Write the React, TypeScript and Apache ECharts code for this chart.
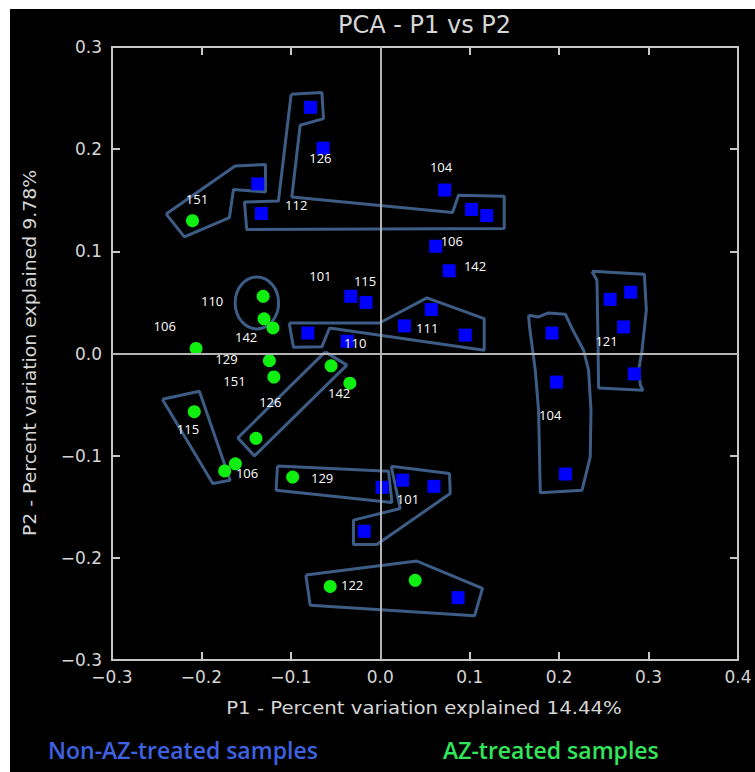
import React, { useEffect, useRef } from 'react';
import * as echarts from 'echarts';

// ---- data (PC1, PC2) ----
const nonAzSamples: number[][] = [
  [-0.078, 0.241], [-0.064, 0.201], [-0.137, 0.166], [-0.133, 0.137],
  [0.072, 0.160], [0.102, 0.141], [0.119, 0.135], [0.062, 0.105], [0.077, 0.081],
  [-0.033, 0.056], [-0.016, 0.050], [-0.081, 0.020], [-0.037, 0.012],
  [0.057, 0.043], [0.027, 0.027], [0.095, 0.018],
  [0.192, 0.020], [0.257, 0.053], [0.280, 0.060], [0.272, 0.026], [0.284, -0.020],
  [0.197, -0.028], [0.207, -0.118],
  [0.002, -0.131], [0.025, -0.124], [0.060, -0.130], [-0.018, -0.174], [0.087, -0.239],
];

const azSamples: number[][] = [
  [-0.210, 0.130], [-0.131, 0.056], [-0.130, 0.034], [-0.120, 0.025], [-0.206, 0.005],
  [-0.124, -0.007], [-0.119, -0.023], [-0.055, -0.012], [-0.034, -0.029],
  [-0.208, -0.057], [-0.139, -0.083], [-0.162, -0.108], [-0.174, -0.115],
  [-0.098, -0.121], [-0.056, -0.228], [0.039, -0.222],
];

const sampleLabels: [string, number, number][] = [
  ['151', -0.205, 0.151], ['126', -0.067, 0.191], ['112', -0.094, 0.145],
  ['101', -0.067, 0.076], ['115', -0.017, 0.071], ['110', -0.188, 0.051],
  ['106', -0.241, 0.027], ['142', -0.150, 0.016], ['110', -0.028, 0.010],
  ['104', 0.068, 0.183], ['106', 0.080, 0.110], ['142', 0.106, 0.086],
  ['111', 0.0525, 0.025], ['121', 0.253, 0.012], ['104', 0.190, -0.060],
  ['101', 0.031, -0.1425], ['129', -0.172, -0.005], ['151', -0.163, -0.027],
  ['126', -0.123, -0.047], ['142', -0.046, -0.039], ['115', -0.215, -0.074],
  ['106', -0.149, -0.117], ['129', -0.065, -0.122], ['122', -0.0315, -0.227],
];

// ---- hand-drawn group outlines (data units) ----
const outline151: number[][] = [
  [-0.2395, 0.1366], [-0.1623, 0.1836], [-0.1284, 0.1849], [-0.1284, 0.1581],
  [-0.1642, 0.1605], [-0.1687, 0.1331], [-0.2191, 0.1141],
];
const outline112: number[][] = [
  [-0.0997, 0.2537], [-0.0653, 0.2554], [-0.0635, 0.2299], [-0.0896, 0.2234],
  [-0.0989, 0.1532], [0.0808, 0.1380], [0.0875, 0.1549], [0.1386, 0.1539],
  [0.1386, 0.1223], [-0.1493, 0.1213], [-0.1519, 0.1483], [-0.1139, 0.1493],
];
const outline111: number[][] = [
  [-0.1019, 0.0299], [-0.0009, 0.0299], [0.0521, 0.0544], [0.1162, 0.0342],
  [0.1162, 0.0032], [-0.0568, 0.0250], [-0.0653, 0.0065], [-0.0971, 0.0062],
];
const outline126: number[][] = [
  [-0.0616, 0.0016], [-0.0374, -0.0114], [-0.1407, -0.1002], [-0.1593, -0.0826],
];
const outline115: number[][] = [
  [-0.2437, -0.0447], [-0.2023, -0.0369], [-0.1679, -0.1240], [-0.1873, -0.1272],
];
const outline129: number[][] = [
  [-0.1150, -0.1100], [0.0092, -0.1152], [0.0130, -0.1458], [-0.1165, -0.1338],
];
const outline101: number[][] = [
  [0.0122, -0.1103], [0.0774, -0.1174], [0.0782, -0.1370], [-0.0038, -0.1869],
  [-0.0300, -0.1869], [-0.0300, -0.1631], [0.0223, -0.1517],
];
const outline122: number[][] = [
  [-0.0832, -0.2169], [0.0409, -0.2032], [0.1143, -0.2299], [0.1054, -0.2568],
  [-0.0784, -0.2463],
];
const outline104: number[][] = [
  [0.1658, 0.0375], [0.1770, 0.0358], [0.1882, 0.0397], [0.2069, 0.0385],
  [0.2144, 0.0245], [0.2273, 0.0032], [0.2329, -0.0163], [0.2356, -0.0555],
  [0.2348, -0.1012], [0.2256, -0.1338], [0.1789, -0.1364], [0.1770, -0.0555],
  [0.1733, -0.0163], [0.1669, 0.0260],
];
const outline121: number[][] = [
  [0.2367, 0.0805], [0.2953, 0.0776], [0.2975, 0.0424], [0.2927, 0.0032],
  [0.2889, -0.0163], [0.2908, -0.0310], [0.2938, -0.0359], [0.2441, -0.0337],
  [0.2435, 0.0098], [0.2423, 0.0717],
];
// ellipse: cx, cy, rx, ry (data units)
const outline110: number[][] = [[-0.138, 0.0495, 0.0243, 0.0254]];

const outlines = [outline151, outline112, outline111, outline126, outline115,
  outline129, outline101, outline122, outline104, outline121];

const xTicks = { min: -0.3, max: 0.4, interval: 0.1 };
const yTicks = { min: -0.3, max: 0.3, interval: 0.1 };

const titleText = 'PCA - P1 vs P2';
const xName = 'P1 - Percent variation explained 14.44%';
const yName = 'P2 - Percent variation explained 9.78%';
const legendNonAz = 'Non-AZ-treated samples';
const legendAz = 'AZ-treated samples';

const FRAME = '#c8c8c8';
const TEXT = '#d6d6d6';
const OUTLINE = '#3d5d86';
const FONT = 'DejaVu Sans';

const fmt = (v: number) => {
  if (Math.abs(v) < 1e-9) return '0.0';
  const s = v.toFixed(1);
  return s.replace('-', '\u2212');
};

function buildOption(): any {
  const axisLine = { show: true, onZero: false, lineStyle: { color: FRAME, width: 2 } };
  const axisTick = { show: true, inside: true, length: 8, lineStyle: { color: FRAME, width: 2 } };
  const xBase = { type: 'value', ...xTicks, splitLine: { show: false }, axisLine, axisTick };
  const yBase = { type: 'value', ...yTicks, splitLine: { show: false }, axisLine, axisTick };

  const outlineSeries = outlines.map((pts, i) => ({
    type: 'line',
    data: [...pts, pts[0]],
    symbol: 'none',
    showSymbol: false,
    silent: true,
    z: 2,
    lineStyle: { color: OUTLINE, width: 3 },
    ...(i === 0
      ? {
          markLine: {
            silent: true,
            symbol: ['none', 'none'],
            label: { show: false },
            lineStyle: { color: '#b4b4b4', width: 2, type: 'solid' },
            data: [{ xAxis: 0 }, { yAxis: 0 }],
          },
        }
      : {}),
  }));

  return {
    animation: false,
    backgroundColor: '#000000',
    grid: { left: 102, top: 38, right: 17, bottom: 112, containLabel: false },
    xAxis: [
      {
        ...xBase,
        position: 'bottom',
        axisLabel: { color: TEXT, fontSize: 17, fontFamily: FONT, margin: 8, formatter: fmt },
      },
      { ...xBase, position: 'top', axisLabel: { show: false } },
    ],
    yAxis: [
      {
        ...yBase,
        position: 'left',
        axisLabel: { color: TEXT, fontSize: 17, fontFamily: FONT, margin: 10, formatter: fmt },
      },
      { ...yBase, position: 'right', axisLabel: { show: false } },
    ],
    graphic: [
      { type: 'text', x: 414.5, y: 16, style: { text: titleText, fill: TEXT, font: `24px "${FONT}"`, align: 'center', verticalAlign: 'middle' } },
      { type: 'text', x: 414, y: 699, scaleX: 1.16, style: { text: xName, fill: TEXT, font: `17px "${FONT}"`, align: 'center', verticalAlign: 'middle' } },
      { type: 'text', x: 20, y: 344, rotation: Math.PI / 2, scaleX: 1.11, style: { text: yName, fill: TEXT, font: `17px "${FONT}"`, align: 'center', verticalAlign: 'middle' } },
      { type: 'text', x: 38, y: 741, style: { text: legendNonAz, fill: '#3f62e0', font: `600 23px "Open Sans"`, align: 'left', verticalAlign: 'middle' } },
      { type: 'text', x: 433, y: 741, style: { text: legendAz, fill: '#33e55a', font: `600 23px "Open Sans"`, align: 'left', verticalAlign: 'middle' } },
    ],
    series: [
      ...outlineSeries,
      {
        type: 'custom',
        silent: true,
        z: 2,
        data: outline110,
        renderItem: (params: any, api: any) => {
          const c = api.coord([api.value(0), api.value(1)]);
          const s = api.size([api.value(2), api.value(3)]);
          return {
            type: 'ellipse',
            shape: { cx: c[0], cy: c[1], rx: s[0], ry: s[1] },
            style: { fill: 'none', stroke: OUTLINE, lineWidth: 3 },
          };
        },
      },
      {
        type: 'scatter',
        name: legendNonAz,
        data: nonAzSamples,
        symbol: 'rect',
        symbolSize: 13,
        z: 3,
        itemStyle: { color: '#0000ff', opacity: 1 },
      },
      {
        type: 'scatter',
        name: legendAz,
        data: azSamples,
        symbol: 'circle',
        symbolSize: 13,
        z: 3,
        itemStyle: { color: '#10f010', opacity: 1 },
      },
      {
        type: 'scatter',
        data: sampleLabels.map(([t, x, y]) => ({ name: t, value: [x, y] })),
        symbolSize: 0,
        z: 4,
        silent: true,
        itemStyle: { opacity: 1 },
        label: {
          show: true,
          position: 'inside',
          formatter: (p: any) => p.name,
          color: '#ffffff',
          opacity: 1,
          fontSize: 13,
          fontFamily: 'Open Sans',
          align: 'center',
          verticalAlign: 'middle',
        },
      },
    ],
  };
}

export default function App() {
  const ref = useRef<HTMLDivElement>(null);
  useEffect(() => {
    if (!ref.current) return;
    const chart = echarts.init(ref.current, null, { renderer: 'svg' });
    chart.setOption(buildOption());
    return () => chart.dispose();
  }, []);
  return (
    <div
      ref={ref}
      style={{ position: 'absolute', left: 10, top: 9, width: 745, height: 763, background: '#000' }}
    />
  );
}
